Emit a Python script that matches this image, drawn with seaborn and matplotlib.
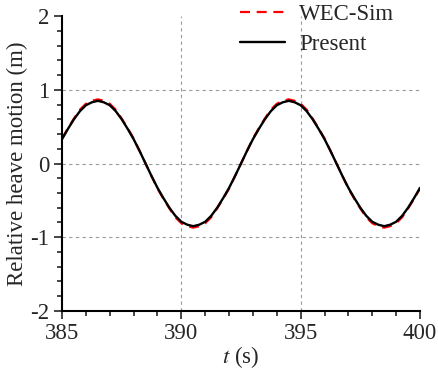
import matplotlib
matplotlib.use("Agg")
import matplotlib.pyplot as plt
import numpy as np
import pandas as pd
import seaborn as sns
from matplotlib.ticker import MultipleLocator

t = [385.0, 385.25, 385.5, 385.75, 386.0, 386.25, 386.5, 386.75, 387.0, 387.25,
     387.5, 387.75, 388.0, 388.25, 388.5, 388.75, 389.0, 389.25, 389.5, 389.75,
     390.0, 390.25, 390.5, 390.75, 391.0, 391.25, 391.5, 391.75, 392.0, 392.25,
     392.5, 392.75, 393.0, 393.25, 393.5, 393.75, 394.0, 394.25, 394.5, 394.75,
     395.0, 395.25, 395.5, 395.75, 396.0, 396.25, 396.5, 396.75, 397.0, 397.25,
     397.5, 397.75, 398.0, 398.25, 398.5, 398.75, 399.0, 399.25, 399.5, 399.75,
     400.0]

present = [0.33, 0.47, 0.60, 0.71, 0.79, 0.83, 0.85, 0.83, 0.79, 0.71,
           0.60, 0.47, 0.33, 0.17, 0.00, -0.17, -0.33, -0.47, -0.60, -0.71,
           -0.79, -0.83, -0.85, -0.83, -0.79, -0.71, -0.60, -0.47, -0.33, -0.17,
           0.00, 0.17, 0.33, 0.47, 0.60, 0.71, 0.79, 0.83, 0.85, 0.83,
           0.79, 0.71, 0.60, 0.47, 0.33, 0.17, 0.00, -0.17, -0.33, -0.47,
           -0.60, -0.71, -0.79, -0.83, -0.85, -0.83, -0.79, -0.71, -0.60, -0.47,
           -0.33]

wecsim = [0.34, 0.48, 0.61, 0.73, 0.81, 0.85, 0.87, 0.85, 0.81, 0.73,
          0.61, 0.48, 0.34, 0.17, 0.00, -0.17, -0.34, -0.48, -0.61, -0.73,
          -0.81, -0.85, -0.87, -0.85, -0.81, -0.73, -0.61, -0.48, -0.34, -0.17,
          0.00, 0.17, 0.34, 0.48, 0.61, 0.73, 0.81, 0.85, 0.87, 0.85,
          0.81, 0.73, 0.61, 0.48, 0.34, 0.17, 0.00, -0.17, -0.34, -0.48,
          -0.61, -0.73, -0.81, -0.85, -0.87, -0.85, -0.81, -0.73, -0.61, -0.48,
          -0.34]

series_names = ["WEC-Sim", "Present"]
grid_x = [390, 395]
grid_y = [-1, 0, 1]

sns.set_style("white")
plt.rcParams["font.family"] = ["Liberation Serif", "DejaVu Serif"]
plt.rcParams["mathtext.fontset"] = "stix"
plt.rcParams["axes.unicode_minus"] = False

df = pd.DataFrame({
    "t": t * 2,
    "y": wecsim + present,
    "series": [series_names[0]] * len(t) + [series_names[1]] * len(t),
})

fig = plt.figure(figsize=(4.38, 3.76), dpi=100)
ax = fig.add_axes([0.1416, 0.1729, 0.9589 - 0.1416, 0.9574 - 0.1729])

for gx in grid_x:
    ax.axvline(gx, color="#999999", linestyle=(0, (3, 3)), linewidth=0.8, zorder=0)
for gy in grid_y:
    ax.axhline(gy, color="#999999", linestyle=(0, (3, 3)), linewidth=0.8, zorder=0)

sns.lineplot(data=df[df.series == "WEC-Sim"], x="t", y="y", ax=ax, color="#ff0000",
             linewidth=1.6, label="WEC-Sim", dashes=False)
ax.lines[-1].set_dashes([4.5, 3])
sns.lineplot(data=df[df.series == "Present"], x="t", y="y", ax=ax, color="black",
             linewidth=1.7, label="Present")

ax.set_xlim(385, 400)
ax.set_ylim(-2, 2)
ax.xaxis.set_major_locator(MultipleLocator(5))
ax.xaxis.set_minor_locator(MultipleLocator(1))
ax.yaxis.set_major_locator(MultipleLocator(1))
ax.yaxis.set_minor_locator(MultipleLocator(0.2))
ax.tick_params(which="major", direction="out", length=6, width=1.2, labelsize=16.5,
               left=True, bottom=True, pad=3)
ax.tick_params(which="minor", direction="out", length=3.5, width=1.2, left=True, bottom=True)

for s in ["top", "right"]:
    ax.spines[s].set_visible(False)
for s in ["left", "bottom"]:
    ax.spines[s].set_color("black")
    ax.spines[s].set_linewidth(1.5)

ax.grid(False)

ax.set_xlabel("$t$ (s)", fontsize=16.5, labelpad=0)
ax.set_ylabel("Relative heave motion (m)", fontsize=16.5, labelpad=2)

leg = ax.legend(loc="upper left", bbox_to_anchor=(0.496, 1.04), frameon=False,
                fontsize=16.5, handlelength=2.0, handletextpad=0.6,
                labelspacing=0.4, borderaxespad=0, borderpad=0)

fig.savefig("out.png", dpi=100)
